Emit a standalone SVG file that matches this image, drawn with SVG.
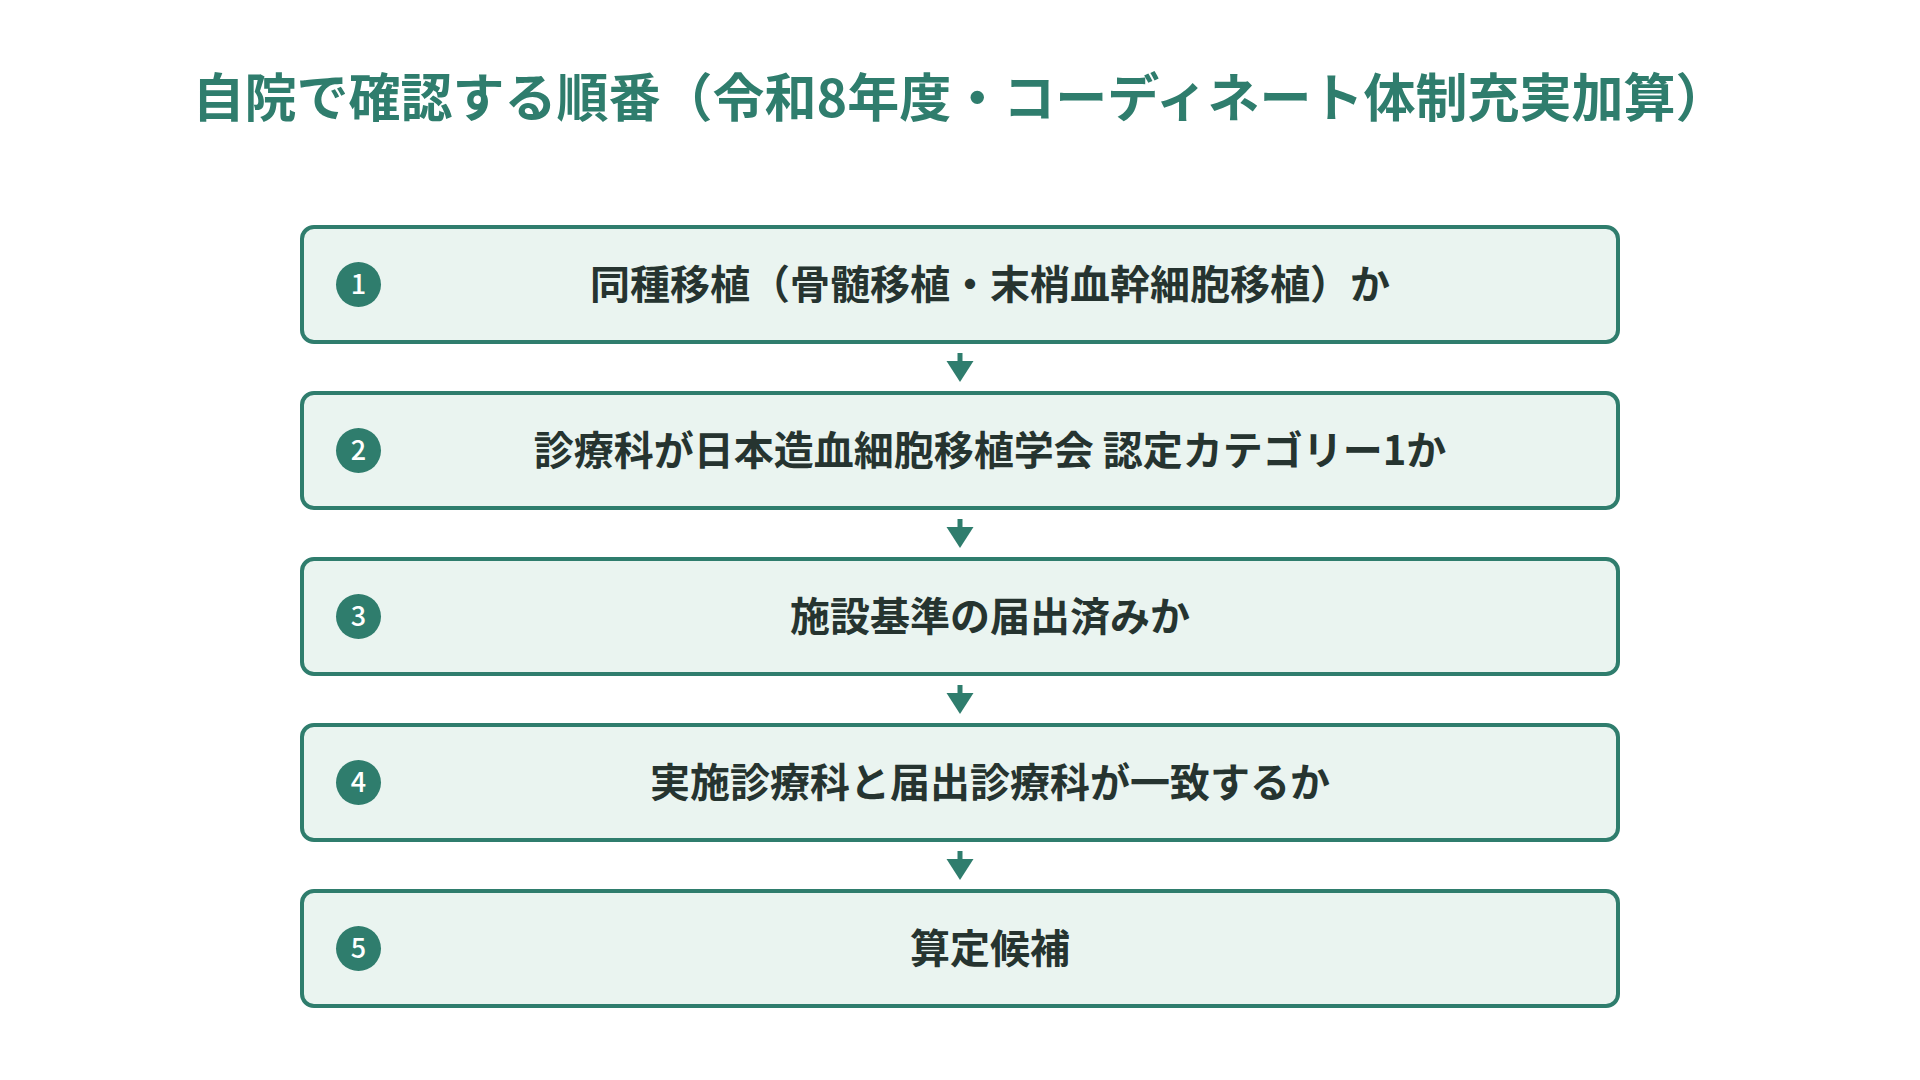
<svg xmlns="http://www.w3.org/2000/svg" width="1920" height="1080" viewBox="0 0 1920 1080">
  <style>
    .title { font-family: "Noto Sans CJK JP", "Noto Sans", sans-serif; font-size: 52px; font-weight: 700; fill: #2f7d6d; }
    .box { fill: #eaf4f0; stroke: #2f7d6d; stroke-width: 4; }
    .badge { fill: #2f7d6d; }
    .num { font-family: "Noto Sans CJK JP", "Noto Sans", sans-serif; font-size: 27px; font-weight: 500; fill: #ffffff; text-anchor: middle; }
    .label { font-family: "Noto Sans CJK JP", "Noto Sans", sans-serif; font-size: 40px; font-weight: 700; fill: #263430; text-anchor: middle; }
    .shaft { stroke: #2f7d6d; stroke-width: 5; fill: none; }
    .head { fill: #2f7d6d; }
  </style>
  <rect width="1920" height="1080" fill="#ffffff"/>
  <text class="title" x="960" y="117" text-anchor="middle">自院で確認する順番（令和8年度・コーディネート体制充実加算）</text>

  <g id="connectors">
    <line class="shaft" x1="960" y1="353" x2="960" y2="366"/>
    <polygon class="head" points="946.5,361 973.5,361 960,382"/>
    <line class="shaft" x1="960" y1="519" x2="960" y2="532"/>
    <polygon class="head" points="946.5,527 973.5,527 960,548"/>
    <line class="shaft" x1="960" y1="685" x2="960" y2="698"/>
    <polygon class="head" points="946.5,693 973.5,693 960,714"/>
    <line class="shaft" x1="960" y1="851" x2="960" y2="864"/>
    <polygon class="head" points="946.5,859 973.5,859 960,880"/>
  </g>

  <g id="step1">
    <rect class="box" x="302" y="227" width="1316" height="115" rx="12"/>
    <circle class="badge" cx="358.5" cy="284.5" r="22.5"/>
    <text class="num" x="358.5" y="294">1</text>
    <text class="label" x="990" y="299">同種移植（骨髄移植・末梢血幹細胞移植）か</text>
  </g>
  <g id="step2">
    <rect class="box" x="302" y="393" width="1316" height="115" rx="12"/>
    <circle class="badge" cx="358.5" cy="450.5" r="22.5"/>
    <text class="num" x="358.5" y="460">2</text>
    <text class="label" x="990" y="465">診療科が日本造血細胞移植学会 認定カテゴリー1か</text>
  </g>
  <g id="step3">
    <rect class="box" x="302" y="559" width="1316" height="115" rx="12"/>
    <circle class="badge" cx="358.5" cy="616.5" r="22.5"/>
    <text class="num" x="358.5" y="626">3</text>
    <text class="label" x="990" y="631">施設基準の届出済みか</text>
  </g>
  <g id="step4">
    <rect class="box" x="302" y="725" width="1316" height="115" rx="12"/>
    <circle class="badge" cx="358.5" cy="782.5" r="22.5"/>
    <text class="num" x="358.5" y="792">4</text>
    <text class="label" x="990" y="797">実施診療科と届出診療科が一致するか</text>
  </g>
  <g id="step5">
    <rect class="box" x="302" y="891" width="1316" height="115" rx="12"/>
    <circle class="badge" cx="358.5" cy="948.5" r="22.5"/>
    <text class="num" x="358.5" y="958">5</text>
    <text class="label" x="990" y="963">算定候補</text>
  </g>
</svg>
